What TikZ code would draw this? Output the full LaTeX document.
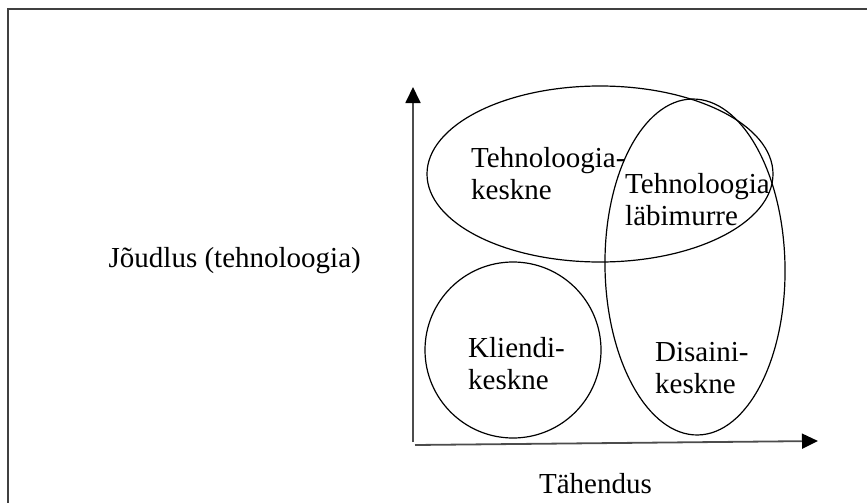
\documentclass[tikz,border=0pt]{standalone}
\usepackage{fontspec}
\setmainfont{Liberation Serif}
\usetikzlibrary{arrows.meta,shapes.geometric}
\tikzset{
  frameline/.style={draw=black!75, line width=2pt},
  axisline/.style={draw=black!70, line width=1.8pt, -{Triangle[length=16pt,width=15pt,black]}},
  region/.style={draw=black, line width=1.2pt, ellipse, inner sep=0pt},
  lbl/.style={font=\fontsize{29}{32}\selectfont, align=left, inner sep=0pt, anchor=north west},
  axislbl/.style={font=\fontsize{29}{32}\selectfont, inner sep=0pt},
}
\begin{document}
\begin{tikzpicture}[x=1pt,y=-1pt]
\useasboundingbox (0,0) rectangle (867,503);
\clip (0,0) rectangle (867,503);
% outer frame (continues past the right and bottom edges)
\draw[frameline] (8,9) rectangle (900,540);
% axes
\coordinate (origin) at (413,442);
\coordinate (ytip) at (413,87);
\coordinate (xstart) at (415,445);
\coordinate (xtip) at (818,441);
\draw[axisline] (origin) -- (ytip);
\draw[axisline] (xstart) -- (xtip);
% regions
\node[region, minimum width=346pt, minimum height=176pt] (tech) at (600,174) {};
\node[region, minimum width=180pt, minimum height=336pt, rotate=1] (design) at (695,267) {};
\node[region, circle, minimum size=176pt] (client) at (513,350) {};
% labels
\node[lbl] (techlbl) at (471,147) {Tehnoloogia-\\keskne};
\node[lbl] (breaklbl) at (625,173) {Tehnoloogia\\läbimurre};
\node[lbl] (clientlbl) at (468,337) {Kliendi-\\keskne};
\node[lbl] (designlbl) at (655,342) {Disaini-\\keskne};
\node[axislbl, anchor=base east] (ylbl) at (361,267) {Jõudlus (tehnoloogia)};
\node[axislbl, anchor=base east] (xlbl) at (652,493) {Tähendus};
\end{tikzpicture}
\end{document}
